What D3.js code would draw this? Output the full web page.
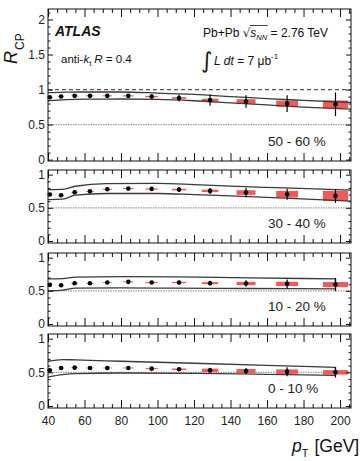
<!DOCTYPE html>
<html>
<head>
<meta charset="utf-8">
<script src="https://cdn.jsdelivr.net/npm/d3@7"></script>
<style>
  body { margin: 0; background: #fff; }
  svg { display: block; font-family: "Liberation Sans", Arial, sans-serif; }
  svg text { white-space: pre; }
  .tick line { stroke: #111; }
  .tick text { fill: #222; font-size: 12px; }
</style>
</head>
<body>
<svg></svg>
<script>
// pT bin centres [GeV] and axis ticks
var ptCenters = [41, 47.2, 54.6, 63, 72.5, 84, 96.8, 111.8, 128.8, 148.5, 171, 197.5];
var xTicks = [40, 60, 80, 100, 120, 140, 160, 180, 200];
var centralityLabels = ["50 - 60 %", "30 - 40 %", "10 - 20 %", "0 - 10 %"];

// 50-60 %
var rcp5060 = [0.89, 0.90, 0.91, 0.91, 0.91, 0.91, 0.90, 0.88, 0.85, 0.83, 0.80, 0.79];
var stat5060 = [0.008, 0.008, 0.01, 0.012, 0.015, 0.02, 0.03, 0.05, 0.08, 0.09, 0.12, 0.17];
var sys5060 = [0.004, 0.004, 0.005, 0.006, 0.007, 0.008, 0.01, 0.012, 0.02, 0.033, 0.043, 0.055];
var bandPt5060 = [40, 50, 60, 80, 100, 120, 140, 160, 180, 206];
var bandHi5060 = [0.955, 0.962, 0.965, 0.965, 0.95, 0.93, 0.90, 0.87, 0.845, 0.815];
var bandLo5060 = [0.84, 0.855, 0.862, 0.865, 0.86, 0.84, 0.81, 0.78, 0.75, 0.72];

// 30-40 %
var rcp3040 = [0.70, 0.69, 0.735, 0.75, 0.78, 0.79, 0.785, 0.775, 0.755, 0.73, 0.705, 0.68];
var stat3040 = [0.008, 0.008, 0.01, 0.01, 0.012, 0.015, 0.02, 0.037, 0.045, 0.07, 0.083, 0.105];
var sys3040 = [0.004, 0.004, 0.005, 0.006, 0.007, 0.008, 0.009, 0.012, 0.018, 0.035, 0.05, 0.076];
var bandPt3040 = [40, 48, 55, 72, 100, 120, 140, 170, 206];
var bandHi3040 = [0.775, 0.778, 0.825, 0.865, 0.868, 0.85, 0.826, 0.80, 0.766];
var bandLo3040 = [0.625, 0.63, 0.69, 0.716, 0.716, 0.70, 0.68, 0.645, 0.60];

// 10-20 %
var rcp1020 = [0.59, 0.585, 0.615, 0.615, 0.625, 0.635, 0.625, 0.625, 0.615, 0.61, 0.605, 0.595];
var stat1020 = [0.008, 0.008, 0.008, 0.01, 0.01, 0.012, 0.015, 0.025, 0.035, 0.05, 0.067, 0.1];
var sys1020 = [0.004, 0.004, 0.005, 0.005, 0.006, 0.007, 0.008, 0.01, 0.015, 0.025, 0.032, 0.037];
var bandPt1020 = [40, 48, 55, 80, 110, 150, 197.5];
var bandHi1020 = [0.68, 0.685, 0.705, 0.715, 0.71, 0.695, 0.68];
var bandLo1020 = [0.50, 0.51, 0.54, 0.545, 0.54, 0.535, 0.53];

// 0-10 %
var rcp010 = [0.53, 0.565, 0.57, 0.565, 0.565, 0.565, 0.555, 0.545, 0.53, 0.52, 0.51, 0.50];
var stat010 = [0.008, 0.008, 0.008, 0.008, 0.01, 0.01, 0.015, 0.025, 0.037, 0.045, 0.067, 0.078];
var sys010 = [0.004, 0.004, 0.004, 0.005, 0.005, 0.006, 0.008, 0.012, 0.025, 0.03, 0.033, 0.033];
var bandPt010 = [40, 48, 55, 80, 120, 160, 197.5];
var bandHi010 = [0.665, 0.69, 0.685, 0.665, 0.635, 0.605, 0.575];
var bandLo010 = [0.43, 0.465, 0.48, 0.49, 0.485, 0.47, 0.455];

var width = 363, height = 461;
var left = 48, right = 351;
var boxHalfFrac = 0.035;   // half width of sys boxes, fraction of pT

var svg = d3.select("svg").attr("width", width).attr("height", height);

var x = d3.scaleLinear().domain([40, 206]).range([left, right]);
var xMinor = d3.range(40, 206, 5).filter(function (v) { return v % 20 != 0; });

var panels = [
  {label: centralityLabels[0], rcp: rcp5060, stat: stat5060, sys: sys5060, bPt: bandPt5060, bHi: bandHi5060, bLo: bandLo5060,
   top: 9, bottom: 161, yDom: [-0.02, 2.15], yTicks: [0, 0.5, 1, 1.5, 2], unity: true, closed: false, labelY: 146},
  {label: centralityLabels[1], rcp: rcp3040, stat: stat3040, sys: sys3040, bPt: bandPt3040, bHi: bandHi3040, bLo: bandLo3040,
   top: 170, bottom: 243, yDom: [-0.03, 1.07], yTicks: [0, 0.5, 1], unity: false, closed: false, labelY: 228},
  {label: centralityLabels[2], rcp: rcp1020, stat: stat1020, sys: sys1020, bPt: bandPt1020, bHi: bandHi1020, bLo: bandLo1020,
   top: 253, bottom: 326, yDom: [-0.03, 1.07], yTicks: [0, 0.5, 1], unity: false, closed: true, labelY: 311},
  {label: centralityLabels[3], rcp: rcp010, stat: stat010, sys: sys010, bPt: bandPt010, bHi: bandHi010, bLo: bandLo010,
   top: 334, bottom: 408, yDom: [-0.03, 1.07], yTicks: [0, 0.5, 1], unity: false, closed: true, labelY: 393}
];

panels.forEach(function (p, i) {
  var y = d3.scaleLinear().domain(p.yDom).range([p.bottom, p.top]);
  var g = svg.append("g");
  var yMinor = d3.range(0, p.yDom[1], 0.1).filter(function (v) { return Math.abs(v * 2 - Math.round(v * 2)) > 1e-6; });

  // reference lines
  g.append("line").attr("x1", left).attr("x2", right).attr("y1", y(0.5)).attr("y2", y(0.5))
    .attr("stroke", "#9a9a9a").attr("stroke-width", 1.3).attr("stroke-dasharray", "1.5,1");
  if (p.unity) {
    g.append("line").attr("x1", left).attr("x2", right).attr("y1", y(1)).attr("y2", y(1))
      .attr("stroke", "#555").attr("stroke-width", 1.2).attr("stroke-dasharray", "4,3");
  }

  // systematic boxes
  g.selectAll("rect.sys").data(p.rcp).enter().append("rect")
    .attr("class", "sys")
    .attr("x", function (d, j) { return x(ptCenters[j] * (1 - boxHalfFrac)); })
    .attr("width", function (d, j) { return x(ptCenters[j] * (1 + boxHalfFrac)) - x(ptCenters[j] * (1 - boxHalfFrac)); })
    .attr("y", function (d, j) { return y(d + p.sys[j]); })
    .attr("height", function (d, j) { return y(d - p.sys[j]) - y(d + p.sys[j]); })
    .attr("fill", "#f25a5a");

  // correlated uncertainty band
  var line = d3.line()
    .x(function (d) { return x(d[0]); })
    .y(function (d) { return y(d[1]); })
    .curve(d3.curveMonotoneX);
  var hi = p.bPt.map(function (v, j) { return [v, p.bHi[j]]; });
  var lo = p.bPt.map(function (v, j) { return [v, p.bLo[j]]; });
  [hi, lo].forEach(function (arr) {
    g.append("path").attr("d", line(arr)).attr("fill", "none").attr("stroke", "#3a3a3a").attr("stroke-width", 1.3);
  });
  if (p.closed) {
    var last = p.bPt.length - 1;
    g.append("line").attr("x1", x(p.bPt[last])).attr("x2", x(p.bPt[last]))
      .attr("y1", y(p.bHi[last])).attr("y2", y(p.bLo[last]))
      .attr("stroke", "#3a3a3a").attr("stroke-width", 1.3);
  }

  // statistical error bars and points
  g.selectAll("line.err").data(p.rcp).enter().append("line")
    .attr("class", "err")
    .attr("x1", function (d, j) { return x(ptCenters[j]); })
    .attr("x2", function (d, j) { return x(ptCenters[j]); })
    .attr("y1", function (d, j) { return y(d - p.stat[j]); })
    .attr("y2", function (d, j) { return y(d + p.stat[j]); })
    .attr("stroke", "#000").attr("stroke-width", 1.2);
  g.selectAll("circle").data(p.rcp).enter().append("circle")
    .attr("cx", function (d, j) { return x(ptCenters[j]); })
    .attr("cy", function (d) { return y(d); })
    .attr("r", 2.3).attr("fill", "#000");

  // frame
  g.append("rect").attr("x", left).attr("y", p.top).attr("width", right - left).attr("height", p.bottom - p.top)
    .attr("fill", "none").attr("stroke", "#111").attr("stroke-width", 1);

  // x ticks (inward, bottom and top)
  var isLast = i == panels.length - 1;
  g.append("g").attr("transform", "translate(0," + p.bottom + ")")
    .call(d3.axisBottom(x).tickValues(xTicks).tickSize(-8).tickPadding(8).tickFormat(isLast ? d3.format("d") : ""));
  g.append("g").attr("transform", "translate(0," + p.bottom + ")")
    .call(d3.axisBottom(x).tickValues(xMinor).tickSize(-4).tickFormat(""));
  g.append("g").attr("transform", "translate(0," + p.top + ")")
    .call(d3.axisTop(x).tickValues(xTicks).tickSize(-8).tickFormat(""));
  g.append("g").attr("transform", "translate(0," + p.top + ")")
    .call(d3.axisTop(x).tickValues(xMinor).tickSize(-4).tickFormat(""));

  // y ticks (inward, left and right)
  g.append("g").attr("transform", "translate(" + left + ",0)")
    .call(d3.axisLeft(y).tickValues(p.yTicks).tickSize(-5).tickPadding(3).tickFormat(d3.format("")));
  g.append("g").attr("transform", "translate(" + left + ",0)")
    .call(d3.axisLeft(y).tickValues(yMinor).tickSize(-2.5).tickFormat(""));
  g.append("g").attr("transform", "translate(" + right + ",0)")
    .call(d3.axisRight(y).tickValues(p.yTicks).tickSize(-5).tickFormat(""));
  g.append("g").attr("transform", "translate(" + right + ",0)")
    .call(d3.axisRight(y).tickValues(yMinor).tickSize(-2.5).tickFormat(""));

  g.selectAll(".domain").remove();

  // centrality label
  g.append("text").attr("x", 268).attr("y", p.labelY)
    .style("font-size", "13.5px").attr("fill", "#222").text(p.label);
});

// chained text pieces, measured one after another
function chain(g, x0, y0, parts) {
  var cx = x0;
  parts.forEach(function (pt) {
    var t = g.append("text").attr("x", cx).attr("y", y0 + (pt.dy || 0))
      .style("font-size", pt.size + "px")
      .style("font-style", pt.italic ? "italic" : "normal")
      .style("font-weight", pt.bold ? "bold" : "normal")
      .attr("fill", "#111")
      .text(pt.text);
    if (pt.family) t.style("font-family", pt.family);
    pt.x0 = cx;
    pt.w = t.node().getComputedTextLength();
    cx += pt.w + (pt.gap || 0);
  });
  return cx;
}

var ann = svg.append("g");
chain(ann, 55, 36, [{text: "ATLAS", size: 14, italic: true, bold: true}]);
chain(ann, 61, 63, [
  {text: "anti-", size: 11.5},
  {text: "k", size: 11.5, italic: true},
  {text: "t", size: 8, dy: 3, gap: 3},
  {text: "R", size: 11.5, italic: true},
  {text: " = 0.4", size: 11.5}
]);

var parts = [
  {text: "Pb+Pb ", size: 12},
  {text: "\u221A", size: 12, family: "DejaVu Sans"},
  {text: "s", size: 12, italic: true},
  {text: "NN", size: 7.5, italic: true, dy: 3},
  {text: " = 2.76 TeV", size: 12}
];
chain(ann, 203, 36.5, parts);
ann.append("line").attr("x1", parts[1].x0 + parts[1].w - 0.5).attr("x2", parts[3].x0 + parts[3].w + 0.5)
  .attr("y1", 25.5).attr("y2", 25.5).attr("stroke", "#111").attr("stroke-width", 0.8);

chain(ann, 201, 68, [{text: "\u222B", size: 22, family: "DejaVu Sans"}]);
chain(ann, 214, 65, [
  {text: "L dt", size: 12, italic: true},
  {text: " = 7 \u03BCb", size: 12},
  {text: "-1", size: 8, dy: -6}
]);

// axis titles
chain(ann, 292, 452, [
  {text: "p", size: 17.5, italic: true},
  {text: "T", size: 11, dy: 5, gap: 6},
  {text: "[GeV]", size: 17.5}
]);
var yt = ann.append("text").attr("transform", "translate(17,64) rotate(-90)").attr("fill", "#111");
yt.append("tspan").style("font-size", "18px").style("font-style", "italic").text("R");
yt.append("tspan").style("font-size", "12px").attr("dx", 1).attr("dy", 7).text("CP");
</script>
</body>
</html>
